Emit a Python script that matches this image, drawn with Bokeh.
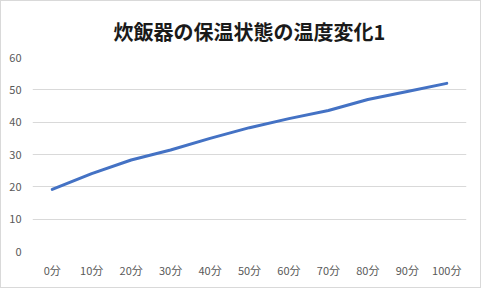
from bokeh.plotting import figure
from bokeh.models import Range1d, FactorRange, FixedTicker
from bokeh.layouts import column
from bokeh.embed import file_html
from bokeh.resources import INLINE

categories = ["0分", "10分", "20分", "30分", "40分", "50分", "60分", "70分", "80分", "90分", "100分"]
temps = [19.2, 24.1, 28.3, 31.4, 35.0, 38.3, 41.1, 43.6, 47.0, 49.5, 52.0]
y_ticks = [0, 10, 20, 30, 40, 50, 60]
title_text = "炊飯器の保温状態の温度変化1"

FONT = "Noto Sans CJK JP"

p = figure(width=479, height=286, x_range=FactorRange(*categories, range_padding=0),
           y_range=Range1d(0, 60), output_backend="svg", toolbar_location=None,
           min_border_left=31, min_border_right=14, min_border_top=56, min_border_bottom=36)
p.title.text = title_text
p.title.align = "center"
p.title.text_font = FONT
p.title.text_font_size = "20px"
p.title.text_font_style = "bold"
p.title.text_color = "#1a1a1a"
p.title.standoff = 24
p.title.text_line_height = 1.0

p.line(categories, temps, line_color="#4472C4", line_width=3, line_cap="round", line_join="round")

p.outline_line_color = None
p.background_fill_color = "white"
p.border_fill_color = "white"

p.xgrid.grid_line_color = None
p.ygrid.grid_line_color = "#d9d9d9"
p.ygrid.grid_line_width = 1

p.yaxis.ticker = FixedTicker(ticks=y_ticks)
for ax in (p.xaxis, p.yaxis):
    ax.axis_line_color = None
    ax.major_tick_line_color = None
    ax.minor_tick_line_color = None
    ax.major_label_text_font = FONT
    ax.major_label_text_font_size = "11px"
    ax.major_label_text_color = "#595959"
p.xaxis.major_label_standoff = 4
p.yaxis.major_label_standoff = 5

layout = column(p, styles={"border": "1px solid #d9d9d9", "background-color": "white"})

open("out.html", "w").write(file_html(layout, INLINE))
